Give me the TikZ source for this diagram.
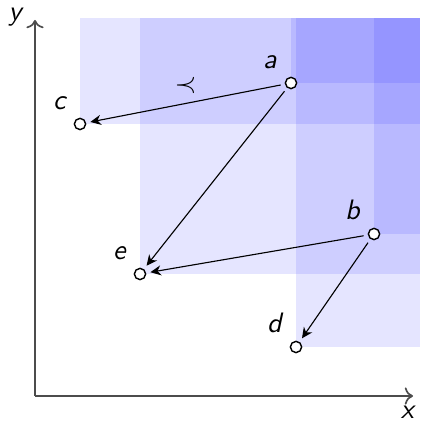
\documentclass[tikz,border=0pt]{standalone}
\usepackage{amsmath, amssymb}
\usepackage{xcolor}
\usepackage{tikz}
\usetikzlibrary{
  arrows.meta,
  positioning,
  backgrounds
}
\definecolor{domblue}{RGB}{0, 0, 255}
\tikzset{
  pt/.style = {
    circle, draw=black, fill=white, line width=0.5pt,
    inner sep=0pt, minimum size=4pt
  },
  ptlbl/.style = {font=\sffamily\itshape},
  dom/.style  = {fill=domblue, fill opacity=0.1},
  axis/.style = {->, draw=black!70, line width=0.6pt},
  arr/.style  = {-{Stealth[length=3.8pt, width=3.6pt]}, line width=0.4pt,
                 shorten >=1.5pt, shorten <=1.5pt},
}

\begin{document}
\begin{tikzpicture}[x=0.125cm, y=0.125cm]

  \useasboundingbox (0,0) rectangle (42,42.1);

  %% Axes
  \coordinate (o) at (3.5,2.5);
  \coordinate (xend) at (41.3,2.5);
  \coordinate (yend) at (3.5,40.1);
  \coordinate (tr) at (42,40.3);
  \draw[axis] (o) -- (xend) node[ptlbl, below, xshift=-2pt]{x};
  \draw[axis] (o) -- (yend)
    node[ptlbl, left, inner sep=1pt, xshift=-3.5pt, yshift=1pt]{y};

  %% Points
  \node[pt, label={[ptlbl]above left:a}] (a) at (29.1,33.8) {};
  \node[pt, label={[ptlbl]above left:b}] (b) at (37.4,18.7) {};
  \node[pt, label={[ptlbl]above left:c}] (c) at (8.0,29.7) {};
  \node[pt, label={[ptlbl]above left:d}] (d) at (29.6,7.4) {};
  \node[pt, label={[ptlbl]above left:e}] (e) at (14.0,14.7) {};

  %% Dominated regions
  \begin{scope}[on background layer]
    \foreach \p in {a,b,c,d,e}
      \fill[dom] (\p.center) rectangle (tr);
  \end{scope}

  \draw[arr] (a) -- node[above]{$\prec$} (c);
  \draw[arr] (a) -- (e);
  \draw[arr] (b) -- (e);
  \draw[arr] (b) -- (d);

\end{tikzpicture}
\end{document}
